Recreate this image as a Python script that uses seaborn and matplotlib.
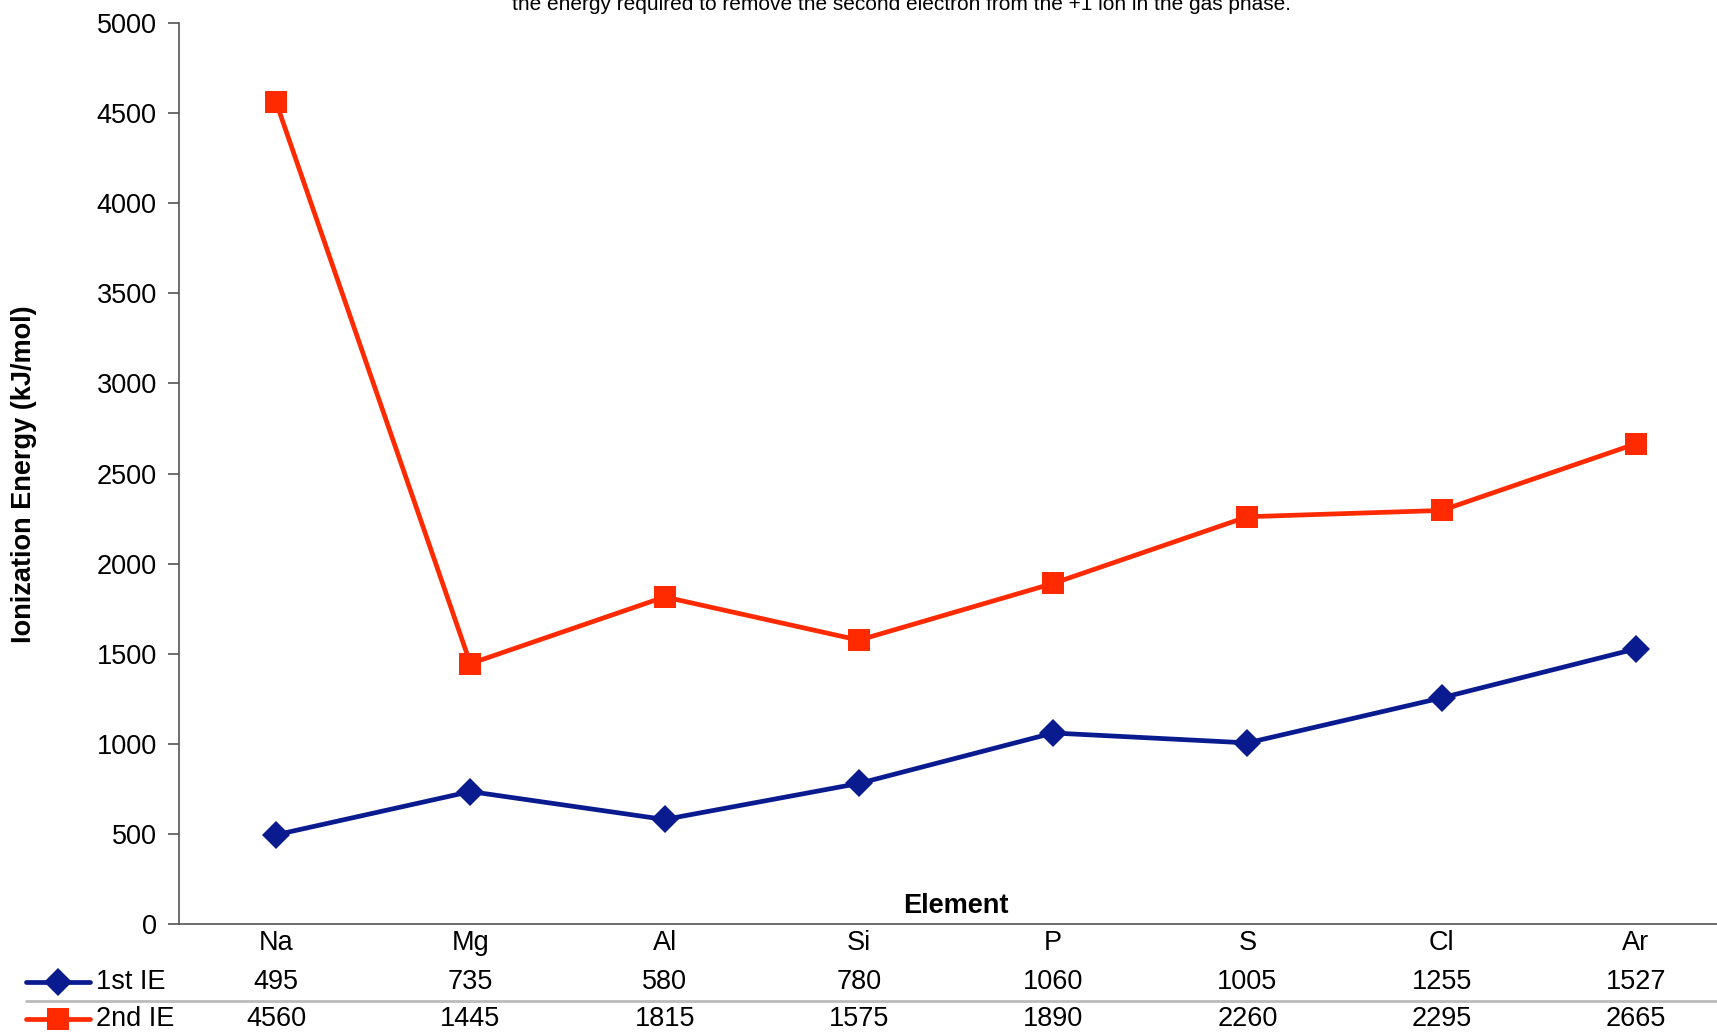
import matplotlib
matplotlib.use("Agg")
import matplotlib.pyplot as plt
from matplotlib.lines import Line2D
import matplotlib.transforms as mtransforms
import seaborn as sns
import pandas as pd

elements = ["Na", "Mg", "Al", "Si", "P", "S", "Cl", "Ar"]
first_ie = [495, 735, 580, 780, 1060, 1005, 1255, 1527]
second_ie = [4560, 1445, 1815, 1575, 1890, 2260, 2295, 2665]
series_names = ["1st IE", "2nd IE"]
y_ticks = [0, 500, 1000, 1500, 2000, 2500, 3000, 3500, 4000, 4500, 5000]

BLUE = "#0A1A8F"
RED = "#FF2A00"
GRAY = "#555555"
MARKER_SIZES = {"D": 14.5, "s": 15.6}

sns.set_theme(style="white")
plt.rcParams["font.family"] = ["Liberation Sans", "DejaVu Sans"]
plt.rcParams["text.color"] = "black"

df = pd.DataFrame({
    "Element": elements * 2,
    "Energy": first_ie + second_ie,
    "Series": [series_names[0]] * len(elements) + [series_names[1]] * len(elements),
})

W, H = 1717, 1032
fig = plt.figure(figsize=(W / 100, H / 100), dpi=100)
ax = fig.add_axes([179 / W, 108 / H, (1733 - 179) / W, (1009 - 108) / H])

sns.lineplot(
    data=df, x="Element", y="Energy", hue="Series", style="Series",
    palette={series_names[0]: BLUE, series_names[1]: RED},
    markers={series_names[0]: "D", series_names[1]: "s"},
    dashes=False, sort=False, linewidth=3.4, markersize=14,
    markeredgewidth=0, legend=False, ax=ax,
)
# per-series marker sizes
for line in ax.lines:
    mk = line.get_marker()
    if mk in MARKER_SIZES:
        line.set_markersize(MARKER_SIZES[mk])

ax.set_xlim(-0.5, len(elements) - 0.5)
ax.set_ylim(0, 5000)
ax.set_yticks(y_ticks)
ax.set_yticklabels([str(t) for t in y_ticks], fontsize=19.5, color="black")
ax.set_xticks([])
ax.set_xlabel("")
ax.set_ylabel("")
ax.tick_params(axis="y", direction="out", length=8, width=1.2, color=GRAY, pad=8, left=True)
for side in ["top", "right"]:
    ax.spines[side].set_visible(False)
for side in ["left", "bottom"]:
    ax.spines[side].set_color(GRAY)
    ax.spines[side].set_linewidth(1.2)

# axis titles
fig.text(24 / W, 1 - 474 / H, "Ionization Energy (kJ/mol)", rotation=90,
         fontsize=19.5, fontweight="bold", ha="center", va="center", color="black")
ax.text(0.5, 0.005, "Element", transform=ax.transAxes, fontsize=19.5,
        fontweight="bold", ha="center", va="bottom", color="black")

# note at the top of the figure
fig.text(901 / W, 1 - 10 / H,
         "the energy required to remove the second electron from the +1 ion in the gas phase.",
         fontsize=15, ha="center", va="baseline", color="black")

# data table under the plot
trans = mtransforms.blended_transform_factory(ax.transData, fig.transFigure)
row_cat = 1 - 943 / H
row_y = [1 - 982 / H, 1 - 1019 / H]
for i, el in enumerate(elements):
    ax.text(i, row_cat, el, transform=trans, fontsize=19.5, ha="center", va="center",
            clip_on=False, color="black")
for vals, ry in zip([first_ie, second_ie], row_y):
    for i, v in enumerate(vals):
        ax.text(i, ry, str(v), transform=trans, fontsize=19.5, ha="center", va="center",
                clip_on=False, color="black")

# separator between table rows
fig.add_artist(Line2D([26 / W, 1.0], [1 - 1001 / H] * 2, color="#BBBBBB", linewidth=2,
                      transform=fig.transFigure))

# legend keys inside the table
for name, color, mk, ry in zip(series_names, [BLUE, RED], ["D", "s"], row_y):
    fig.add_artist(Line2D([26 / W, 90 / W], [ry, ry], color=color, linewidth=3.4,
                          transform=fig.transFigure))
    fig.add_artist(Line2D([58 / W], [ry], color=color, marker=mk, markersize=MARKER_SIZES[mk],
                          markeredgewidth=0, linestyle="none", transform=fig.transFigure))
    fig.text(96 / W, ry, name, fontsize=19.5, ha="left", va="center", color="black")

fig.savefig("out.png", dpi=100)
